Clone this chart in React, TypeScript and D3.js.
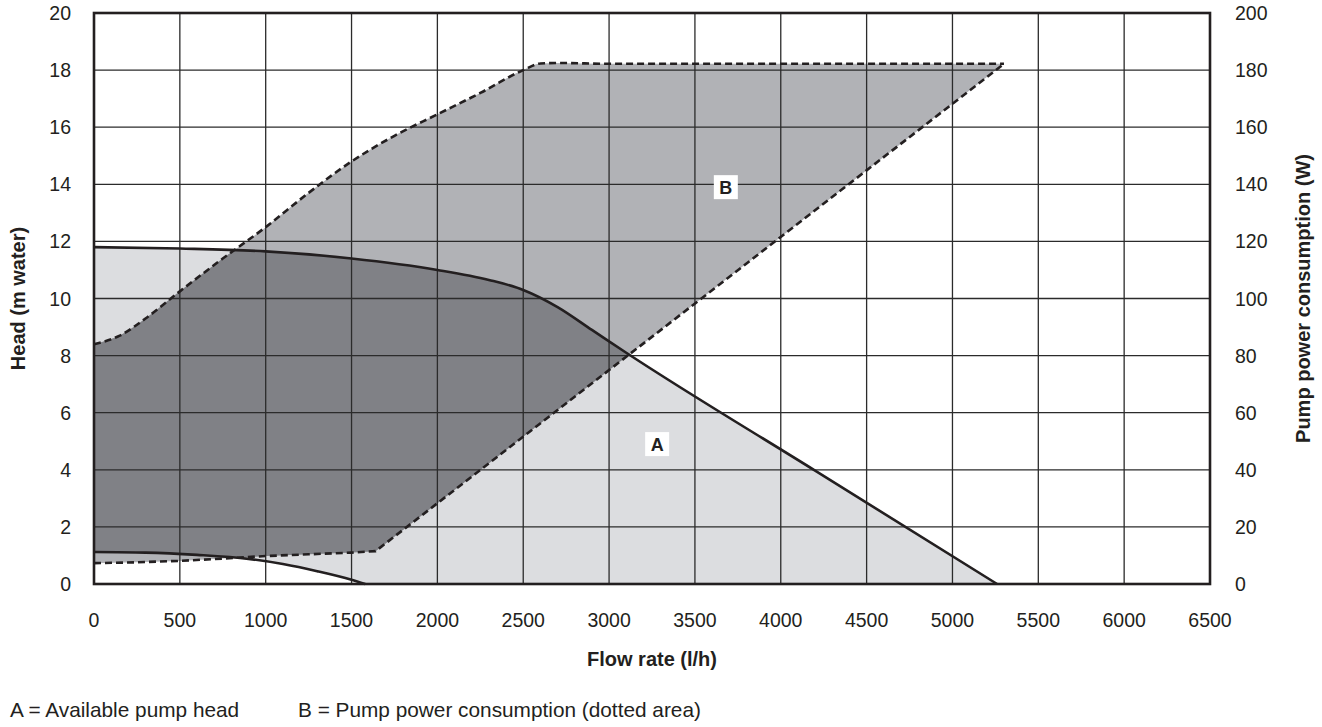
import { useEffect } from 'react'
import * as d3 from 'd3'

// flow rate (l/h) / head (m water)
const headMax: [number, number][] = [
  [0, 11.8], [500, 11.75], [1000, 11.65], [1500, 11.4], [2000, 11.0],
  [2300, 10.65], [2500, 10.3], [2700, 9.7], [2900, 8.9], [3100, 8.1],
  [4200, 3.97], [5260, 0]
]
const headMin: [number, number][] = [
  [0, 1.12], [300, 1.1], [600, 1.02], [900, 0.88], [1100, 0.7],
  [1300, 0.45], [1500, 0.15], [1580, 0]
]
// flow rate (l/h) / power (W)
const powerMax: [number, number][] = [
  [0, 84], [150, 87], [300, 93], [500, 102.5], [750, 114], [1000, 125],
  [1250, 137], [1500, 148], [1750, 157], [2000, 164.5], [2250, 172],
  [2500, 180], [2600, 182.3], [2700, 182.5], [3000, 182.2], [5300, 182.2]
]
const powerMin: [number, number][] = [
  [0, 7.3], [250, 7.6], [500, 8.1], [750, 8.9], [1000, 9.8], [1250, 10.4],
  [1500, 11], [1640, 11.5], [5300, 182.2]
]

const xTicks = d3.range(0, 6501, 500)
const headTicks = d3.range(0, 21, 2)
const powerTicks = d3.range(0, 201, 20)

const labelA = { flow: 3280, head: 4.9, text: 'A' }
const labelB = { flow: 3680, power: 139, text: 'B' }

const legendA = 'A = Available pump head'
const legendB = 'B = Pump power consumption (dotted area)'

const W = 1322
const H = 727
const FONT = '"Liberation Sans", Arial, Helvetica, sans-serif'
const INK = '#231f20'

export default function App() {
  useEffect(() => {
    document.body.style.margin = '0'
  }, [])

  const m = { left: 94, right: 1210, top: 13, bottom: 584 }
  const x = d3.scaleLinear().domain([0, 6500]).range([m.left, m.right])
  const yH = d3.scaleLinear().domain([0, 20]).range([m.bottom, m.top])
  const yP = d3.scaleLinear().domain([0, 200]).range([m.bottom, m.top])

  const headLine = d3.line<[number, number]>()
    .x(d => x(d[0])).y(d => yH(d[1])).curve(d3.curveMonotoneX)
  const powerLine = d3.line<[number, number]>()
    .x(d => x(d[0])).y(d => yP(d[1])).curve(d3.curveMonotoneX)
  const powerLineLow = d3.line<[number, number]>()
    .x(d => x(d[0])).y(d => yP(d[1]))

  const headLower: [number, number][] = [...headMin, [headMax[headMax.length - 1][0], 0]]
  const areaA = headLine(headMax) + 'L' + (headLine([...headLower].reverse()) as string).slice(1) + 'Z'
  const areaB = powerLine(powerMax) + 'L' + (powerLineLow([...powerMin].reverse()) as string).slice(1) + 'Z'

  return (
    <div style={{ position: 'absolute', left: 0, top: 0 }}>
      <svg width={W} height={H} style={{ display: 'block', background: '#fff' }} fontFamily={FONT}>
        <defs>
          <clipPath id="clipB">
            <path d={areaB} />
          </clipPath>
        </defs>

        {/* areas */}
        <path d={areaA} fill="#dcdde0" />
        <path d={areaB} fill="#b1b2b6" />
        <path d={areaA} fill="#808186" clipPath="url(#clipB)" />

        {/* grid */}
        {xTicks.slice(1, -1).map(t => (
          <line key={'gx' + t} x1={x(t)} x2={x(t)} y1={m.top} y2={m.bottom} stroke="#2b2b2b" strokeWidth={1.3} />
        ))}
        {headTicks.slice(1, -1).map(t => (
          <line key={'gy' + t} x1={m.left} x2={m.right} y1={yH(t)} y2={yH(t)} stroke="#2b2b2b" strokeWidth={1.3} />
        ))}

        {/* head curves */}
        <path d={headLine(headMax) as string} fill="none" stroke={INK} strokeWidth={2.6} />
        <path d={headLine(headMin) as string} fill="none" stroke={INK} strokeWidth={2.6} />

        {/* power curves */}
        <path d={powerLine(powerMax) as string} fill="none" stroke={INK} strokeWidth={2.6} strokeDasharray="7 4" />
        <path d={powerLineLow(powerMin) as string} fill="none" stroke={INK} strokeWidth={2.6} strokeDasharray="7 4" />

        {/* frame */}
        <rect x={m.left} y={m.top} width={m.right - m.left} height={m.bottom - m.top}
          fill="none" stroke={INK} strokeWidth={2.6} />

        {/* area labels */}
        <rect x={x(labelA.flow) - 12} y={yH(labelA.head) - 12} width={24} height={24} fill="#fff" />
        <text x={x(labelA.flow)} y={yH(labelA.head)} dy="0.36em" textAnchor="middle"
          fontSize={18} fontWeight="bold" fill={INK}>{labelA.text}</text>
        <rect x={x(labelB.flow) - 12} y={yP(labelB.power) - 12} width={24} height={24} fill="#fff" />
        <text x={x(labelB.flow)} y={yP(labelB.power)} dy="0.36em" textAnchor="middle"
          fontSize={18} fontWeight="bold" fill={INK}>{labelB.text}</text>

        {/* tick labels */}
        {xTicks.map(t => (
          <text key={'tx' + t} x={x(t)} y={620} dy="0.36em" textAnchor="middle" fontSize={19.5} fill={INK}>{t}</text>
        ))}
        {headTicks.map(t => (
          <text key={'th' + t} x={71} y={yH(t)} dy="0.36em" textAnchor="end" fontSize={19.5} fill={INK}>{t}</text>
        ))}
        {powerTicks.map(t => (
          <text key={'tp' + t} x={1235} y={yP(t)} dy="0.36em" textAnchor="start" fontSize={19.5} fill={INK}>{t}</text>
        ))}

        {/* axis titles */}
        <text x={(m.left + m.right) / 2} y={659} dy="0.36em" textAnchor="middle" fontSize={20} fontWeight="bold" fill={INK}>
          Flow rate (l/h)
        </text>
        <text transform={`translate(18,${(m.top + m.bottom) / 2}) rotate(-90)`} dy="0.36em" textAnchor="middle"
          fontSize={20} fontWeight="bold" fill={INK}>
          Head (m water)
        </text>
        <text transform={`translate(1303,${(m.top + m.bottom) / 2}) rotate(-90)`} dy="0.36em" textAnchor="middle"
          fontSize={20} fontWeight="bold" fill={INK}>
          Pump power consumption (W)
        </text>

        {/* legend */}
        <text x={10} y={710} dy="0.36em" fontSize={20.8} fill={INK}>{legendA}</text>
        <text x={298} y={710} dy="0.36em" fontSize={20.8} fill={INK}>{legendB}</text>
      </svg>
    </div>
  )
}
